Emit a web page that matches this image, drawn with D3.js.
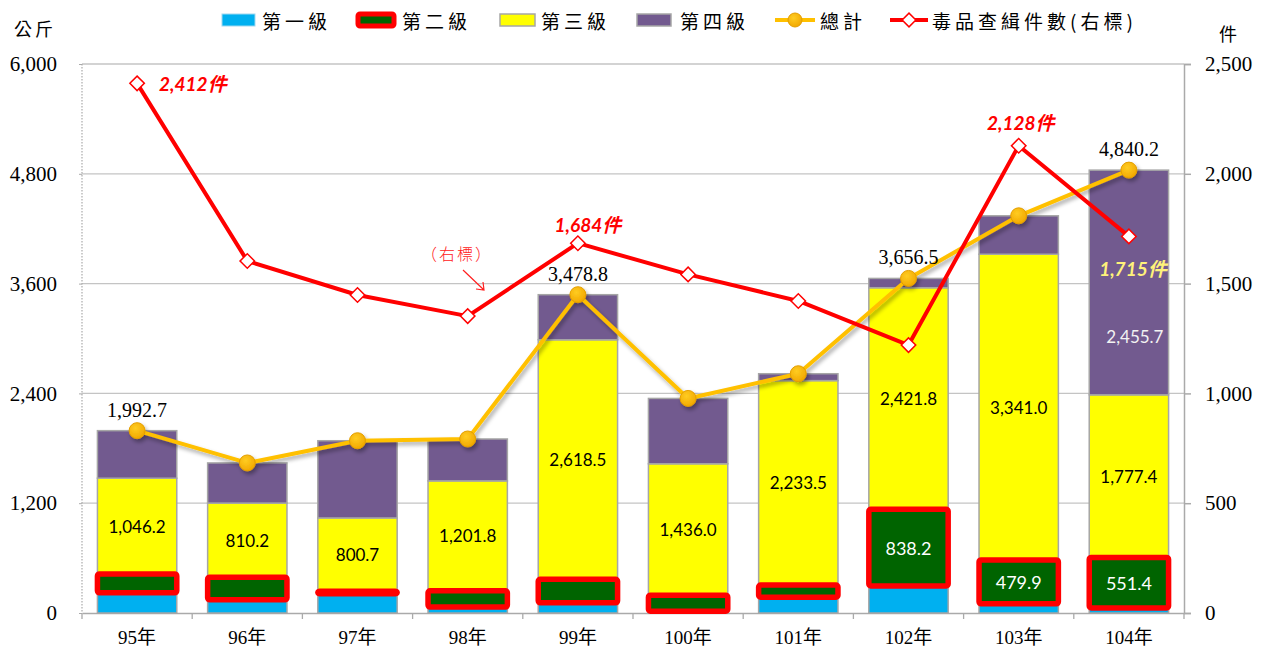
<!DOCTYPE html>
<html><head><meta charset="utf-8">
<script src="https://cdn.jsdelivr.net/npm/d3@7"></script>
<style>body{margin:0;background:#fff}svg{display:block}</style>
</head><body>
<svg id="c" width="1267" height="648"></svg>
<script>
const categories = ["95年","96年","97年","98年","99年","100年","101年","102年","103年","104年"];
const level1 = [221,144,210,65,111,20,173,295,100,55.7];
const level2 = [206,247,28,177,257,175,133,838.2,479.9,551.4];
const level3 = [1046.2,810.2,800.7,1201.8,2618.5,1436.0,2233.5,2421.8,3341.0,1777.4];
const level4 = [519.5,438.8,844,458,492.3,714,75.5,101.5,420,2455.7];
const totals = [1992.7,1640,1882.7,1901.8,3478.8,2345,2615,3656.5,4340.9,4840.2];
const cases = [2412,1603,1448,1352,1684,1542,1421,1220,2128,1715];
const leftTicks = [0,1200,2400,3600,4800,6000];
const rightTicks = [0,500,1000,1500,2000,2500];
const seriesNames = ["第一級","第二級","第三級","第四級","總計","毒品查緝件數(右標)"];

const CJK = "'Liberation Serif','Noto Sans CJK TC',serif";
const LAB = "Lato,'Noto Sans CJK TC',sans-serif";
const svg = d3.select("#c");
const L = 82, R = 1184, T = 64, B = 613;
const x = d3.scaleBand().domain(categories).range([L, R]).paddingInner(0.28).paddingOuter(0.14);
const y = d3.scaleLinear().domain([0, 6000]).range([B, T]);
const y2 = d3.scaleLinear().domain([0, 2500]).range([B, T]);
const cx = c => x(c) + x.bandwidth() / 2;

const defs = svg.append("defs");
const f = defs.append("filter").attr("id","sh").attr("x","-10%").attr("y","-10%").attr("width","120%").attr("height","130%");
f.append("feGaussianBlur").attr("in","SourceAlpha").attr("stdDeviation",2);
f.append("feOffset").attr("dx",2).attr("dy",3).attr("result","ob");
f.append("feComponentTransfer").append("feFuncA").attr("type","linear").attr("slope",0.35);
const fm = f.append("feMerge"); fm.append("feMergeNode"); fm.append("feMergeNode").attr("in","SourceGraphic");
const rg = defs.append("radialGradient").attr("id","og").attr("cx","40%").attr("cy","35%").attr("r","65%");
rg.append("stop").attr("offset","0%").attr("stop-color","#FFCC22");
rg.append("stop").attr("offset","100%").attr("stop-color","#F2A900");

// gridlines
svg.append("g").selectAll("line").data(leftTicks.slice(1)).join("line")
  .attr("x1", L).attr("x2", R).attr("y1", d => y(d)).attr("y2", d => y(d))
  .attr("stroke", "#c4c4c4").attr("stroke-width", 1.3);

// left axis
const ax = svg.append("g").attr("transform", `translate(${L},0)`)
  .call(d3.axisLeft(y).tickValues(leftTicks).tickFormat(d3.format(",")).tickSize(3).tickPadding(22));
ax.select(".domain").remove();
ax.selectAll("line").attr("stroke", "#aaa");
ax.selectAll("text").attr("font-family", CJK).attr("font-size", 21).attr("fill", "#000");
svg.append("line").attr("x1", L).attr("x2", L).attr("y1", T).attr("y2", B)
  .attr("stroke", "#aaa").attr("stroke-width", 1.2).attr("stroke-dasharray", "1.5,1.5");

// right axis
const ax2 = svg.append("g").attr("transform", `translate(${R},0)`)
  .call(d3.axisRight(y2).tickValues(rightTicks).tickFormat(d3.format(",")).tickSize(7).tickPadding(14));
ax2.select(".domain").attr("stroke", "#aaa").attr("stroke-width", 1.5);
ax2.selectAll("line").attr("stroke", "#aaa").attr("stroke-width", 1.5);
ax2.selectAll("text").attr("font-family", CJK).attr("font-size", 21).attr("fill", "#000");

// bottom axis
const bx = svg.append("g").attr("transform", `translate(0,${B})`)
  .call(d3.axisBottom(x).tickSize(0).tickPadding(18));
bx.select(".domain").attr("stroke", "#aaa").attr("stroke-width", 1.5);
bx.selectAll("text").attr("font-family", CJK).attr("font-size", 19).attr("fill", "#000");
svg.append("g").selectAll("line").data(d3.range(categories.length + 1)).join("line")
  .attr("x1", i => L + i * x.step()).attr("x2", i => L + i * x.step())
  .attr("y1", B).attr("y2", B + 6).attr("stroke", "#aaa").attr("stroke-width", 1.3);

// stacked bars
const rows = categories.map((c, i) => ({c, a: level1[i], b: level2[i], t: level3[i], f: level4[i]}));
const stack = d3.stack().keys(["a","b","t","f"])(rows);
const fills = {a: "#00B0F0", b: "#006400", t: "#FFFF00", f: "#725A8F"};
["a","t","f"].forEach(k => {
  const s = stack.find(s => s.key === k);
  svg.append("g").selectAll("rect").data(s).join("rect")
    .attr("x", d => x(d.data.c)).attr("width", x.bandwidth())
    .attr("y", d => y(d[1])).attr("height", d => y(d[0]) - y(d[1]))
    .attr("fill", fills[k]).attr("stroke", "#a6a6a6").attr("stroke-width", 1.5);
});
const s2 = stack.find(s => s.key === "b");
svg.append("g").selectAll("rect").data(s2).join("rect")
  .attr("x", d => x(d.data.c)).attr("width", x.bandwidth())
  .attr("y", d => y(d[1])).attr("height", d => y(d[0]) - y(d[1]))
  .attr("rx", 2)
  .attr("fill", fills.b).attr("stroke", "#FF0000").attr("stroke-width", 5.5);

// bar labels
const fmt = d3.format(",.1f");
const s3 = stack.find(s => s.key === "t");
svg.append("g").selectAll("text").data(s3).join("text")
  .attr("x", d => cx(d.data.c)).attr("y", d => y((d[0] + d[1]) / 2))
  .attr("text-anchor", "middle").attr("dominant-baseline", "central")
  .attr("font-family", LAB).attr("font-size", 17).attr("fill", "#000")
  .text(d => fmt(d.data.t));
const show2 = [7, 8, 9];
svg.append("g").selectAll("text").data(show2).join("text")
  .attr("x", i => cx(categories[i])).attr("y", i => y((s2[i][0] + s2[i][1]) / 2))
  .attr("text-anchor", "middle").attr("dominant-baseline", "central")
  .attr("font-family", LAB).attr("font-size", 18).attr("fill", "#fff")
  .text(i => fmt(level2[i]));
const s4 = stack.find(s => s.key === "f");
svg.append("text").attr("x", cx(categories[9]) + 6).attr("y", y((s4[9][0] + s4[9][1]) / 2) + 54)
  .attr("text-anchor", "middle").attr("dominant-baseline", "central")
  .attr("font-family", LAB).attr("font-size", 17).attr("fill", "#f2f2f2")
  .text(fmt(level4[9]));

// total line
const line1 = d3.line().x((d, i) => cx(categories[i])).y(d => y(d));
const tg = svg.append("g").attr("filter", "url(#sh)");
tg.append("path").datum(totals).attr("d", line1).attr("fill", "none")
  .attr("stroke", "#FFC000").attr("stroke-width", 4).attr("stroke-linejoin", "round");
tg.selectAll("circle").data(totals).join("circle")
  .attr("cx", (d, i) => cx(categories[i])).attr("cy", d => y(d)).attr("r", 8)
  .attr("fill", "url(#og)").attr("stroke", "#E39E00").attr("stroke-width", 1);
const showT = [0, 4, 7, 9];
svg.append("g").selectAll("text").data(showT).join("text")
  .attr("x", i => cx(categories[i])).attr("y", i => y(totals[i]) - 21)
  .attr("text-anchor", "middle").attr("dominant-baseline", "central")
  .attr("font-family", CJK).attr("font-size", 20).attr("fill", "#000")
  .text(i => fmt(totals[i]));

// cases line
const line2 = d3.line().x((d, i) => cx(categories[i])).y(d => y2(d));
svg.append("path").datum(cases).attr("d", line2).attr("fill", "none")
  .attr("stroke", "#FF0000").attr("stroke-width", 4).attr("stroke-linejoin", "round");
const diamond = d3.symbol(d3.symbolSquare, 105);
svg.append("g").selectAll("path").data(cases).join("path")
  .attr("d", diamond)
  .attr("transform", (d, i) => `translate(${cx(categories[i])},${y2(d)}) rotate(45)`)
  .attr("fill", "#fff").attr("stroke", "#FF0000").attr("stroke-width", 1.5);
const cf = d => d3.format(",")(d) + "件";
const caseLabels = [
  {i: 0, dx: 22, dy: 0, anchor: "start", color: "#FF0000"},
  {i: 4, dx: 10, dy: -19, anchor: "middle", color: "#FF0000"},
  {i: 8, dx: 2, dy: -23, anchor: "middle", color: "#FF0000"},
  {i: 9, dx: 4, dy: 32, anchor: "middle", color: "#FFF27A"}
];
svg.append("g").selectAll("text").data(caseLabels).join("text")
  .attr("x", d => cx(categories[d.i]) + d.dx).attr("y", d => y2(cases[d.i]) + d.dy)
  .attr("text-anchor", d => d.anchor).attr("dominant-baseline", "central")
  .attr("font-family", LAB).attr("font-size", 19).attr("font-weight", "bold").attr("font-style", "italic")
  .attr("fill", d => d.color).text(d => cf(cases[d.i]));

// (右標) annotation
svg.append("text").attr("x", 457).attr("y", 253).attr("text-anchor", "middle").attr("dominant-baseline", "central")
  .attr("font-family", "'Noto Sans CJK TC',sans-serif").attr("font-size", 16).attr("font-weight", 300)
  .attr("fill", "#FF2020").attr("letter-spacing", 2).text("（右標）");
svg.append("path").attr("d", "M463,270 L484,290 M476,289 L484,290 L483,282")
  .attr("fill", "none").attr("stroke", "#FF2020").attr("stroke-width", 1.2);

// axis titles
svg.append("text").attr("x", 35).attr("y", 28).attr("text-anchor", "middle").attr("dominant-baseline", "central")
  .attr("font-family", "'Noto Sans CJK TC',sans-serif").attr("font-size", 18).attr("letter-spacing", 3).text("公斤");
svg.append("text").attr("x", 1228).attr("y", 33).attr("text-anchor", "middle").attr("dominant-baseline", "central")
  .attr("font-family", "'Noto Sans CJK TC',sans-serif").attr("font-size", 18).text("件");

// legend
const lg = svg.append("g").attr("font-family", "'Noto Sans CJK TC',sans-serif").attr("font-size", 19);
const ly = 20;
const legendX = [222, 358, 500, 637, 775, 890];
lg.append("rect").attr("x", legendX[0]).attr("y", ly - 6).attr("width", 33).attr("height", 12)
  .attr("fill", fills.a).attr("stroke", "#9fd8ef").attr("stroke-width", 1);
lg.append("rect").attr("x", legendX[1]).attr("y", ly - 6).attr("width", 36).attr("height", 12).attr("rx", 2)
  .attr("fill", fills.b).attr("stroke", "#FF0000").attr("stroke-width", 5);
lg.append("rect").attr("x", legendX[2]).attr("y", ly - 6).attr("width", 35).attr("height", 12)
  .attr("fill", fills.t).attr("stroke", "#a6a6a6").attr("stroke-width", 1.5);
lg.append("rect").attr("x", legendX[3]).attr("y", ly - 6).attr("width", 34).attr("height", 12)
  .attr("fill", fills.f).attr("stroke", "#a6a6a6").attr("stroke-width", 1.5);
lg.append("line").attr("x1", legendX[4]).attr("x2", legendX[4] + 40).attr("y1", ly).attr("y2", ly)
  .attr("stroke", "#FFC000").attr("stroke-width", 4);
lg.append("circle").attr("cx", legendX[4] + 20).attr("cy", ly).attr("r", 7)
  .attr("fill", "url(#og)").attr("stroke", "#E39E00");
lg.append("line").attr("x1", legendX[5]).attr("x2", legendX[5] + 38).attr("y1", ly).attr("y2", ly)
  .attr("stroke", "#FF0000").attr("stroke-width", 4);
lg.append("path").attr("d", d3.symbol(d3.symbolSquare, 95))
  .attr("transform", `translate(${legendX[5] + 19},${ly}) rotate(45)`)
  .attr("fill", "#fff").attr("stroke", "#FF0000").attr("stroke-width", 1.5);
const textX = [262, 402, 541, 680, 820, 932];
lg.selectAll("text").data(seriesNames).join("text")
  .attr("x", (d, i) => textX[i]).attr("y", ly).attr("dominant-baseline", "central")
  .attr("letter-spacing", 4).text(d => d);
</script>
</body></html>
